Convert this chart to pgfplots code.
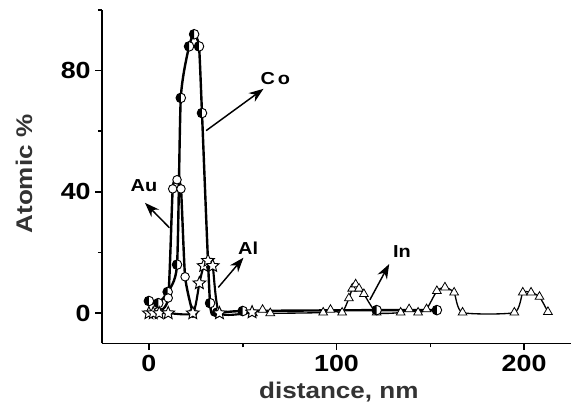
\documentclass[border=0pt]{standalone}
\usepackage{fontspec}
\setmainfont{Liberation Sans}
\newfontfamily\lab[FakeStretch=1.15]{Liberation Sans}
\usepackage{pgfplots}
\pgfplotsset{compat=1.18}
\usetikzlibrary{arrows.meta}

% half-filled circle (left half black)
\pgfdeclareplotmark{lhalf}{%
  \pgfpathcircle{\pgfpointorigin}{\pgfplotmarksize}%
  \pgfsetfillcolor{white}\pgfusepathqfill
  \pgfpathmoveto{\pgfqpoint{0pt}{\pgfplotmarksize}}%
  \pgfpatharc{90}{270}{\pgfplotmarksize}%
  \pgfpathclose
  \pgfsetfillcolor{black}\pgfusepathqfill
  \pgfpathcircle{\pgfpointorigin}{\pgfplotmarksize}%
  \pgfusepathqstroke
}
% open five-point star
\pgfdeclareplotmark{ostar}{%
  \pgfpathmoveto{\pgfpointpolar{90}{\pgfplotmarksize}}%
  \pgfpathlineto{\pgfpointpolar{126}{0.45\pgfplotmarksize}}%
  \pgfpathlineto{\pgfpointpolar{162}{\pgfplotmarksize}}%
  \pgfpathlineto{\pgfpointpolar{198}{0.45\pgfplotmarksize}}%
  \pgfpathlineto{\pgfpointpolar{234}{\pgfplotmarksize}}%
  \pgfpathlineto{\pgfpointpolar{270}{0.45\pgfplotmarksize}}%
  \pgfpathlineto{\pgfpointpolar{306}{\pgfplotmarksize}}%
  \pgfpathlineto{\pgfpointpolar{342}{0.45\pgfplotmarksize}}%
  \pgfpathlineto{\pgfpointpolar{18}{\pgfplotmarksize}}%
  \pgfpathlineto{\pgfpointpolar{54}{0.45\pgfplotmarksize}}%
  \pgfpathclose
  \pgfusepathqfillstroke
}

\begin{document}
\begin{tikzpicture}
\begin{axis}[
  scale only axis, width=351.75pt, height=250.1pt,
  xmin=-25, xmax=225, ymin=-10, ymax=100,
  axis lines=left, axis line style={-, line width=1.4pt},
  tick align=outside, major tick length=5pt, minor tick length=3pt,
  every tick/.style={line width=1.2pt, black},
  xtick={0,100,200}, minor xtick={50,150},
  ytick={0,40,80}, minor ytick={20,60,100},
  /pgf/number format/assume math mode=true,
  tick label style={font=\lab\bfseries\fontsize{17.5}{17.5}\selectfont},
  label style={font=\lab\bfseries\fontsize{17}{17}\selectfont, text=black!80},
  xlabel={distance, nm}, ylabel={Atomic \%},
  xlabel style={at={([yshift=-36.4pt]axis description cs:0.505,0)}, anchor=center},
  ylabel style={at={([xshift=-58.5pt]axis description cs:0,0.508)}, anchor=center},
  smooth, tension=0.35,
]
% In
\addplot[black, line width=1.0pt, mark=triangle*, mark size=3.8pt,
  mark options={fill=white, line width=0.6pt}] coordinates {
  (55.4,0) (60.6,1.1) (64.7,0) (92.9,0.2) (96.8,1.1) (103,0.2)
  (106.6,4.9) (108.4,8.1) (110.2,9.5) (112,8.1) (114.6,6.3) (121.4,0.2)
  (134.2,0.2) (138.7,1.3) (143.5,0.2) (148,1.3) (153.5,7.3) (157.8,8.5)
  (162.7,6.8) (167.2,0.2) (194.8,0.2) (199.3,6.8) (203.7,6.8) (208.2,5.4)
  (212.7,0.4)};
% Co
\addplot[black, line width=1.8pt, mark=lhalf, mark size=3.6pt,
  mark options={line width=0.7pt}] coordinates {
  (0,4) (5,3.3) (10,7) (15,16) (17,71) (21.4,88) (24.1,92) (26.7,88)
  (28.3,66) (32.6,3.3) (36.4,0.2) (50,0.7) (121.4,1) (153.5,1)};
% Au
\addplot[black, line width=1.8pt, mark=*, mark size=3.2pt,
  mark options={fill=white, line width=0.7pt}] coordinates {
  (5,0.5) (10.3,5) (12.7,41) (15,44) (17.1,41) (19.3,12) (23.4,0)};
% Al
\addplot[black, line width=1.6pt, mark=ostar, mark size=5pt,
  mark options={fill=white, line width=0.7pt}] coordinates {
  (0,0) (2.3,0) (5.5,0) (10.3,0) (23.4,0) (26.9,9.9) (29.2,15.6)
  (31.5,17.3) (34,15.6) (37.6,0) (55,0.3)};

\begin{scope}[line width=1.1pt, -{Stealth[length=11pt,width=8pt]}]
\draw (axis cs:30.5,60.2) -- (axis cs:61.1,74);
\draw (axis cs:10.9,28.2) -- (axis cs:-2.1,36.4);
\draw (axis cs:37,8.5) -- (axis cs:50.4,18.3);
\draw (axis cs:117.8,4.4) -- (axis cs:128.1,16.2);
\end{scope}
\begin{scope}[every node/.style={font=\lab\bfseries\fontsize{13}{13}\selectfont}]
\node at (axis cs:67.4,77.5) {C\,o};
\node at (axis cs:-2.6,42) {Au};
\node at (axis cs:52.9,21.4) {Al};
\node at (axis cs:134.9,20.3) {In};
\end{scope}
\end{axis}
\pgfresetboundingbox
\useasboundingbox (-76.5pt,-49.9pt) rectangle (351.75pt,257.6pt);
\end{tikzpicture}
\end{document}
